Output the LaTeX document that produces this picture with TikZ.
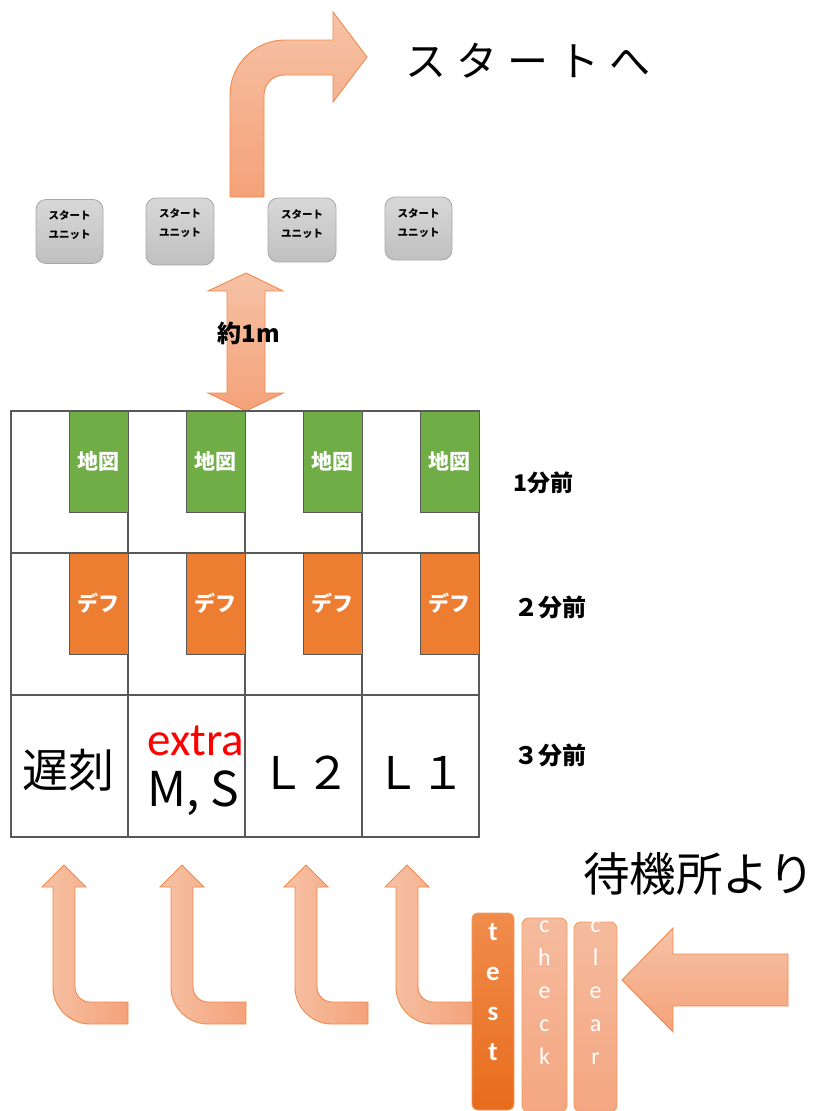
\documentclass[tikz,border=0pt]{standalone}
\usepackage{fontspec}
\newfontfamily\jp{Noto Sans CJK JP}
\newfontfamily\calib{Carlito}
\definecolor{aLight}{HTML}{F6C2A6}
\definecolor{aDark}{HTML}{F4A279}
\definecolor{aLine}{HTML}{F08A4C}
\definecolor{gridc}{HTML}{595959}
\definecolor{mapg}{HTML}{70AD47}
\definecolor{defo}{HTML}{ED7D31}
\definecolor{unitTop}{HTML}{D8D8D8}
\definecolor{unitBot}{HTML}{C0C0C0}
\definecolor{unitLine}{HTML}{A8A8A8}
\definecolor{testTop}{HTML}{F08C4C}
\definecolor{testBot}{HTML}{E86C1C}
\definecolor{testLine}{HTML}{F29B62}
\definecolor{ckTop}{HTML}{F5BB9E}
\definecolor{ckBot}{HTML}{F4A680}
\definecolor{xred}{HTML}{FF0000}
\tikzset{
  arrowv/.style={draw=aLine, line width=0.9pt, top color=aLight, bottom color=aDark},
  arrowh/.style={draw=aLine, line width=0.9pt, left color=aLight, right color=aDark},
  unitbox/.style={draw=unitLine, line width=0.8pt, rounded corners=10pt, top color=unitTop, bottom color=unitBot, minimum width=67pt, minimum height=64pt, inner sep=0pt},
  unittext/.style={font=\jp\bfseries\fontsize{10.5}{19}\selectfont, align=center, inner sep=0pt},
  gridline/.style={draw=gridc, line width=1.2pt},
  mapbox/.style={draw=gridc, line width=1pt, fill=mapg, minimum width=59pt, minimum height=101pt, inner sep=0pt, text=white, font=\jp\bfseries\fontsize{21}{24}\selectfont},
  defbox/.style={draw=gridc, line width=1pt, fill=defo, minimum width=59pt, minimum height=101pt, inner sep=0pt, text=white, font=\jp\bfseries\fontsize{21}{24}\selectfont},
  rowlabel/.style={font=\jp\bfseries\fontsize{23}{26}\selectfont, inner sep=0pt},
  celltext/.style={font=\jp\fontsize{45}{50}\selectfont, inner sep=0pt},
  testbox/.style={draw=testLine, line width=0.9pt, rounded corners=6pt, top color=testTop, bottom color=testBot, minimum width=42pt, minimum height=197pt, inner sep=0pt},
  ckbox/.style={draw=testLine, line width=0.9pt, rounded corners=7pt, top color=ckTop, bottom color=ckBot, minimum height=194pt, inner sep=0pt},
  vtext/.style={text=white, align=center, inner sep=0pt}
}
\begin{document}
\begin{tikzpicture}[x=1pt,y=-1pt]
\useasboundingbox (0,0) rectangle (821,1111);
\fill[white] (0,0) rectangle (821,1111);

% top bent arrow
\shadedraw[arrowv] (230,197) -- (230,95) .. controls (230,64.6) and (254.6,40) .. (285,40)
  -- (333,40) -- (333,12) -- (367,57) -- (333,102) -- (333,75) -- (284,75)
  .. controls (272.95,75) and (264,83.95) .. (264,95) -- (264,197) -- cycle;
\node[font=\jp\fontsize{41}{46}\selectfont, inner sep=0pt] (start) at (528,61)
  {ス\hspace{10pt}タ\hspace{10pt}ー\hspace{10pt}ト\hspace{10pt}へ};

% start units
\node[unitbox] (u1) at (69.5,231.5) {};
\node[unitbox, minimum height=67pt, minimum width=68pt] (u2) at (180,231.5) {};
\node[unitbox, minimum width=68pt] (u3) at (302,230) {};
\node[unitbox, minimum height=63pt] (u4) at (418.5,228.5) {};
\node[unittext] (u1t) at (69.5,225) {スタート\\ユニット};
\node[unittext] (u2t) at (180,223) {スタート\\ユニット};
\node[unittext] (u3t) at (302,224) {スタート\\ユニット};
\node[unittext] (u4t) at (418.5,223) {スタート\\ユニット};

% double arrow
\shadedraw[arrowv] (246,273) -- (283,291) -- (265,291) -- (265,393) -- (283,393) -- (246,411)
  -- (208,393) -- (227,393) -- (227,291) -- (208,291) -- cycle;
\node[font=\jp\bfseries\fontsize{24}{28}\selectfont, inner sep=0pt] (dist) at (249,333) {約1m};

% grid
\draw[gridline] (11,411) rectangle (479,837);
\foreach \gx in {128,245,362} \draw[gridline] (\gx,411) -- (\gx,837);
\foreach \gy in {553,695} \draw[gridline] (11,\gy) -- (479,\gy);

\node[mapbox] (m1) at (98.5,461.5) {地図};
\node[mapbox] (m2) at (215.5,461.5) {地図};
\node[mapbox] (m3) at (332.5,461.5) {地図};
\node[mapbox] (m4) at (449.5,461.5) {地図};
\node[defbox] (d1) at (98.5,603.5) {デフ};
\node[defbox] (d2) at (215.5,603.5) {デフ};
\node[defbox] (d3) at (332.5,603.5) {デフ};
\node[defbox] (d4) at (449.5,603.5) {デフ};

\node[rowlabel] (r1) at (543,483) {1分前};
\node[rowlabel, font=\jp\bfseries\fontsize{24}{28}\selectfont] (r2) at (550,607) {２分前};
\node[rowlabel, font=\jp\bfseries\fontsize{24}{28}\selectfont] (r3) at (550,755) {３分前};

\node[celltext, font=\jp\fontsize{46}{50}\selectfont] (late) at (68,770) {遅刻};
\node[font=\calib\fontsize{47}{50}\selectfont, text=xred, inner sep=0pt] (extra) at (196,741) {extra};
\node[celltext, font=\jp\fontsize{48}{52}\selectfont] (ms) at (193,793) {M, S};
\node[celltext] (l2) at (305,773) {Ｌ２};
\node[celltext] (l1) at (420,773) {Ｌ１};

% bottom bent arrows
\foreach \t/\R in {64/128, 182/246, 306/368, 407/475}{
  \shadedraw[arrowh] (\t,865) -- ({\t+22},887) -- ({\t+11},887) -- ({\t+11},987)
    .. controls ({\t+11},995.3) and ({\t+17.7},1002) .. ({\t+26},1002)
    -- (\R,1002) -- (\R,1024) -- ({\t+26},1024)
    .. controls ({\t+5.6},1024) and ({\t-11},1007.4) .. ({\t-11},987)
    -- ({\t-11},887) -- ({\t-22},887) -- cycle;
}

% incoming arrow
\shadedraw[arrowv] (622,980) -- (673,928) -- (673,954) -- (788,954) -- (788,1006) -- (673,1006) -- (673,1032) -- cycle;

% test / check / clear
\node[testbox] (test) at (493,1011.5) {};
\node[vtext, font=\calib\bfseries\fontsize{27}{40}\selectfont] (testt) at (493,992) {t\\e\\s\\t};
\node[ckbox, minimum width=45pt] (check) at (544.5,1015) {};
\node[vtext, font=\calib\fontsize{24}{33}\selectfont] (checkt) at (544.5,992.5) {c\\h\\e\\c\\k};
\node[ckbox, minimum width=43pt, minimum height=190pt] (clear) at (595.5,1017) {};
\node[vtext, font=\calib\fontsize{24}{33}\selectfont] (cleart) at (595.5,992.5) {c\\l\\e\\a\\r};

\node[font=\jp\fontsize{46.5}{52}\selectfont, anchor=west, inner sep=0pt] (wait) at (583,874) {待機所より};
\end{tikzpicture}
\end{document}
